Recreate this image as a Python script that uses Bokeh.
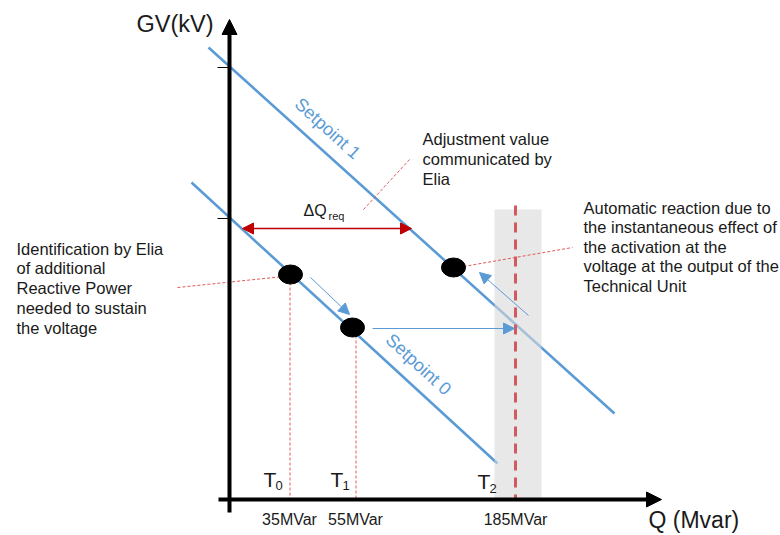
from bokeh.plotting import figure
from bokeh.models import Range1d, Arrow, NormalHead
from bokeh.core.properties import value
from bokeh.embed import file_html
from bokeh.resources import INLINE

# ---------------- data (schematic diagram coordinates) ----------------
q_labels = ["35MVar", "55MVar", "185MVar"]
q_x = [289, 355, 515]
t_subs = ["0", "1", "2"]
t_x = [263, 330, 477]

sp_names = ["Setpoint 1", "Setpoint 0"]
sp_x0 = [208, 191]
sp_y0 = [47, 182]
sp_x1 = [614, 497]
sp_y1 = [413, 463]

op_x = [290, 352, 453]
op_y = [274, 327, 267]

ann_adjust = ["Adjustment value", "communicated by", "Elia"]
ann_auto = ["Automatic reaction due to", "the instantaneous effect of",
            "the activation at the", "voltage at the output of the",
            "Technical Unit"]
ann_ident = ["Identification by Elia", "of additional", "Reactive Power",
             "needed to sustain", "the voltage"]

# ---------------- figure ----------------
W, H = 780, 535
p = figure(width=W, height=H, x_range=Range1d(0, W), y_range=Range1d(H, 0),
           output_backend="svg", toolbar_location=None, min_border=0,
           x_axis_location=None, y_axis_location=None)
p.grid.visible = False
p.outline_line_color = None

FONT = value("Liberation Sans")
BLUE = "#5B9BD5"
RED = "#C00000"
LRED = "#E05A5A"
TXT = "#1a1a1a"

# setpoint droop lines
p.segment(x0=sp_x0, y0=sp_y0, x1=sp_x1, y1=sp_y1, line_color=BLUE, line_width=2.6)

# thin blue movement arrows
blue_arrows = [((310, 277), (349, 314)), ((372, 328), (514, 328)), ((528, 315), (479, 272))]
for (xs, ys), (xe, ye) in blue_arrows:
    p.add_layout(Arrow(end=NormalHead(size=11, fill_color=BLUE, line_color=BLUE),
                       x_start=xs, y_start=ys, x_end=xe, y_end=ye,
                       line_color=BLUE, line_width=1))

# grey band around 185 MVar (semi-transparent)
p.quad(left=[494], right=[541], top=[209], bottom=[499], fill_color="#D9D9D9",
       fill_alpha=0.6, line_color=None)

# thick red dashed limit at 185 MVar
p.segment(x0=[q_x[2]], y0=[205], x1=[q_x[2]], y1=[498], line_color="#D05A5E",
          line_width=3, line_dash="10 7")

# thin red dashed drop lines from operating points
p.segment(x0=[x + 0.5 for x in q_x[:2]], y0=[op_y[0] + 8, op_y[1] + 8],
          x1=[x + 0.5 for x in q_x[:2]], y1=[498, 498],
          line_color=LRED, line_width=1, line_dash="3 2")

# dashed leader lines
p.segment(x0=[363, 177, 463], y0=[209, 287, 266], x1=[410, 283, 572], y1=[158, 276, 247],
          line_color=LRED, line_width=1, line_dash="3 2")

# axes
p.segment(x0=[229, 218], y0=[512, 499], x1=[229, 648], y1=[33, 499], line_color="black",
          line_width=4)
p.add_layout(Arrow(end=NormalHead(size=15, fill_color="black", line_color="black"),
                   x_start=229, y_start=40, x_end=229, y_end=19, line_color=None))
p.add_layout(Arrow(end=NormalHead(size=15, fill_color="black", line_color="black"),
                   x_start=640, y_start=499, x_end=661, y_end=499, line_color=None))
# y-axis ticks
p.segment(x0=[217, 217], y0=[67, 218], x1=[229, 229], y1=[67, 218], line_color="black",
          line_width=1.2)

# delta Q arrow
p.add_layout(Arrow(start=NormalHead(size=11, fill_color=RED, line_color=RED),
                   end=NormalHead(size=11, fill_color=RED, line_color=RED),
                   x_start=242, y_start=228, x_end=411, y_end=228,
                   line_color=RED, line_width=1.5))

# operating points
p.ellipse(x=op_x, y=op_y, width=24, height=19, width_units="screen",
          height_units="screen", fill_color="black", line_color="black")

# ---------------- texts ----------------
p.text(x=[213], y=[23], text=["GV(kV)"], text_font=FONT, text_font_size="23.5px",
       text_align="right", text_baseline="middle", text_color=TXT)
p.text(x=[648], y=[519], text=["Q (Mvar)"], text_font=FONT, text_font_size="23px",
       text_align="left", text_baseline="middle", text_color=TXT)

p.text(x=q_x, y=[519, 519, 519], text=q_labels, text_font=FONT, text_font_size="16px",
       text_align="center", text_baseline="middle", text_color=TXT)

p.text(x=t_x, y=[479, 479, 481], text=["T", "T", "T"], text_font=FONT,
       text_font_size="21px", text_align="left", text_baseline="middle", text_color=TXT)
p.text(x=[x + 12 for x in t_x], y=[485, 485, 488], text=t_subs, text_font=FONT,
       text_font_size="13px", text_align="left", text_baseline="middle", text_color=TXT)

p.text(x=[303], y=[210], text=["\u0394Q"], text_font=FONT, text_font_size="16px",
       text_align="left", text_baseline="middle", text_color=TXT)
p.text(x=[328], y=[215], text=["req"], text_font=FONT, text_font_size="11px",
       text_align="left", text_baseline="middle", text_color=TXT)

p.text(x=[327, 418], y=[128, 364], text=sp_names, angle=[-0.734, -0.743],
       text_font=FONT, text_font_size="18px", text_align="center",
       text_baseline="middle", text_color=BLUE)

def block(lines, x, y0, step):
    p.text(x=[x] * len(lines), y=[y0 + i * step for i in range(len(lines))], text=lines,
           text_font=FONT, text_font_size="16.5px", text_align="left",
           text_baseline="middle", text_color=TXT)

block(ann_adjust, 422, 138, 20)
block(ann_auto, 583, 207, 19.6)
block(ann_ident, 16, 248, 19.8)

open("out.html", "w").write(file_html(p, INLINE))
